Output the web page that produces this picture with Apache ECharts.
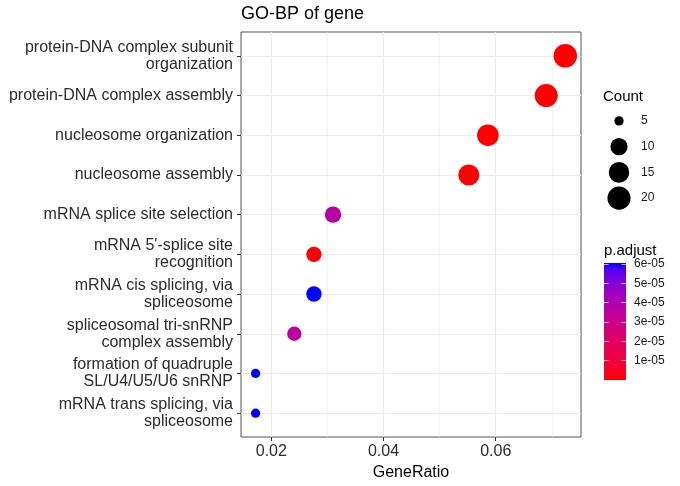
<!DOCTYPE html>
<html>
<head>
<meta charset="utf-8">
<script src="https://cdn.jsdelivr.net/npm/echarts@6/dist/echarts.min.js"></script>
<style>html,body{margin:0;padding:0;background:#fff;}#c{width:680px;height:486px;}</style>
</head>
<body>
<div id="c"></div>
<script>
const categories = [
  "protein-DNA complex subunit\norganization",
  "protein-DNA complex assembly",
  "nucleosome organization",
  "nucleosome assembly",
  "mRNA splice site selection",
  "mRNA 5'-splice site\nrecognition",
  "mRNA cis splicing, via\nspliceosome",
  "spliceosomal tri-snRNP\ncomplex assembly",
  "formation of quadruple\nSL/U4/U5/U6 snRNP",
  "mRNA trans splicing, via\nspliceosome"
];
const geneRatio = [0.0724, 0.0690, 0.0586, 0.0552, 0.0310, 0.0276, 0.0276, 0.0241, 0.0172, 0.0172];
const counts = [21, 20, 17, 16, 9, 8, 8, 7, 5, 5];
const pAdjust = [2e-10, 4e-10, 1.5e-9, 2.5e-9, 3.7e-05, 5e-7, 6.05e-05, 3.6e-05, 6.04e-05, 6.05e-05];

const xTicks = [0.02, 0.04, 0.06];
const xTickLabels = ["0.02", "0.04", "0.06"];
const xMinorTicks = [0.03, 0.05, 0.07];
const sizeBreaks = [5, 10, 15, 20];
const colorTicks = [1e-05, 2e-05, 3e-05, 4e-05, 5e-05, 6e-05];
const colorTickLabels = ["1e-05", "2e-05", "3e-05", "4e-05", "5e-05", "6e-05"];

const FONT = "'Liberation Sans', Arial, sans-serif";

// Lab-space gradient red -> blue (like ggplot scale_color_gradient)
function toLin(c){ c/=255; return c<=0.04045? c/12.92 : Math.pow((c+0.055)/1.055,2.4); }
function toSrgb(c){ c = c<=0.0031308? 12.92*c : 1.055*Math.pow(c,1/2.4)-0.055; return Math.max(0,Math.min(255,Math.round(c*255))); }
function rgb2lab(r,g,b){
  r=toLin(r); g=toLin(g); b=toLin(b);
  let X=(0.4124*r+0.3576*g+0.1805*b)/0.95047, Y=(0.2126*r+0.7152*g+0.0722*b), Z=(0.0193*r+0.1192*g+0.9505*b)/1.08883;
  const f=t=> t>0.008856? Math.cbrt(t) : 7.787*t+16/116;
  const fx=f(X), fy=f(Y), fz=f(Z);
  return [116*fy-16, 500*(fx-fy), 200*(fy-fz)];
}
function lab2rgb(L,a,b){
  const fy=(L+16)/116, fx=fy+a/500, fz=fy-b/200;
  const fi=t=> t*t*t>0.008856? t*t*t : (t-16/116)/7.787;
  const X=fi(fx)*0.95047, Y=fi(fy), Z=fi(fz)*1.08883;
  const r=3.2406*X-1.5372*Y-0.4986*Z, g=-0.9689*X+1.8758*Y+0.0415*Z, bb=0.0557*X-0.2040*Y+1.0570*Z;
  return 'rgb('+toSrgb(r)+','+toSrgb(g)+','+toSrgb(bb)+')';
}
const labLow = rgb2lab(255,0,0), labHigh = rgb2lab(0,0,255);
function gradColor(t){ return lab2rgb(labLow[0]+(labHigh[0]-labLow[0])*t, labLow[1]+(labHigh[1]-labLow[1])*t, labLow[2]+(labHigh[2]-labLow[2])*t); }
const stops = [];
for (let i=0;i<=20;i++) stops.push(gradColor(i/20));

const pMin = Math.min(...pAdjust), pMax = Math.max(...pAdjust);
const cMin = Math.min(...counts), cMax = Math.max(...counts);
function sizeFor(c){ return 9.3 + (23.5-9.3)*Math.sqrt(Math.max(0,(c-cMin))/(cMax-cMin)); }

const mainData = geneRatio.map((g,i)=>[g, i+1, counts[i], pAdjust[i]]);

const chart = echarts.init(document.getElementById('c'), null, {renderer:'canvas'});
chart.setOption({
  animation: false,
  backgroundColor: '#fff',
  textStyle: {fontFamily: FONT},
  title: [
    {text: 'GO-BP of gene', left: 241, top: 5, padding: 0, textStyle: {fontSize: 18, fontWeight: 'normal', color: '#000', fontFamily: FONT}},
    {text: 'Count', left: 603, top: 89, padding: 0, textStyle: {fontSize: 15, fontWeight: 'normal', color: '#000', fontFamily: FONT}},
    {text: 'p.adjust', left: 604, top: 243, padding: 0, textStyle: {fontSize: 15, fontWeight: 'normal', color: '#000', fontFamily: FONT}}
  ],
  grid: [
    {left: 241, top: 32, width: 340, height: 405, show: true, borderColor: '#555', borderWidth: 1, backgroundColor: 'transparent', containLabel: false},
    {left: 604, top: 263, width: 22, height: 117, containLabel: false},
    {left: 604, top: 108, width: 30, height: 103, containLabel: false}
  ],
  xAxis: [
    {gridIndex: 0, type: 'value', min: 0.0146, max: 0.0752,
     name: 'GeneRatio', nameLocation: 'middle', nameGap: 24,
     nameTextStyle: {fontSize: 16, color: '#000', fontFamily: FONT},
     axisLine: {show: false}, splitLine: {show: false},
     axisTick: {show: true, length: 4, customValues: xTicks, lineStyle: {color: '#333'}},
     axisLabel: {customValues: xTicks, margin: 7, fontSize: 16, color: '#2b2b2b', fontFamily: FONT,
       formatter: v => { const k = xTicks.findIndex(t => Math.abs(t-v) < 1e-9); return k>=0 ? xTickLabels[k] : ''; }}
    },
    {gridIndex: 1, type: 'category', data: ['p'], show: false},
    {gridIndex: 2, type: 'value', min: 0, max: 1, show: false}
  ],
  yAxis: [
    {gridIndex: 0, type: 'value', min: 0.4, max: 10.6, inverse: true,
     axisLine: {show: false}, splitLine: {show: false},
     axisTick: {show: true, length: 4, customValues: categories.map((c,i)=>i+1), lineStyle: {color: '#333'}},
     axisLabel: {customValues: categories.map((c,i)=>i+1), margin: 8, fontSize: 16, lineHeight: 17, color: '#2b2b2b', fontFamily: FONT, align: 'right',
       formatter: v => categories[Math.round(v)-1] || ''}
    },
    {gridIndex: 1, type: 'value', min: pMin, max: pMax, position: 'left', z: 10,
     axisLine: {show: false}, splitLine: {show: false}, axisLabel: {show: false},
     axisTick: {show: true, inside: true, length: 4.5, customValues: colorTicks, lineStyle: {color: 'rgba(255,255,255,0.75)', width: 1}}
    },
    {gridIndex: 1, type: 'value', min: pMin, max: pMax, position: 'right', z: 10,
     axisLine: {show: false}, splitLine: {show: false},
     axisTick: {show: true, inside: true, length: 4.5, customValues: colorTicks, lineStyle: {color: 'rgba(255,255,255,0.75)', width: 1}},
     axisLabel: {customValues: colorTicks, margin: 8, fontSize: 12, color: '#1a1a1a', fontFamily: FONT,
       formatter: v => { const k = colorTicks.findIndex(t => Math.abs(t-v) < 1e-12); return k>=0 ? colorTickLabels[k] : ''; }}
    },
    {gridIndex: 2, type: 'category', data: sizeBreaks.map(String), inverse: true, position: 'right',
     axisLine: {show: false}, axisTick: {show: false}, splitLine: {show: false},
     axisLabel: {margin: 7, fontSize: 12, color: '#1a1a1a', fontFamily: FONT}
    }
  ],
  visualMap: [{
    show: false, type: 'continuous', seriesIndex: 1, dimension: 3,
    min: pMin, max: pMax, inRange: {color: stops}
  }],
  series: [
    {type: 'scatter', xAxisIndex: 0, yAxisIndex: 0, data: [], z: 1, silent: true,
     markLine: {silent: true, symbol: ['none','none'], label: {show: false}, animation: false,
       data: [
         ...xMinorTicks.map(v => ({xAxis: v, lineStyle: {color: '#EBEBEB', width: 0.6, type: 'solid'}})),
         ...xTicks.map(v => ({xAxis: v, lineStyle: {color: '#EBEBEB', width: 1.1, type: 'solid'}})),
         ...categories.map((c,i) => ({yAxis: i+1, lineStyle: {color: '#EBEBEB', width: 1.1, type: 'solid'}}))
       ]}
    },
    {type: 'scatter', xAxisIndex: 0, yAxisIndex: 0, z: 5, data: mainData,
     symbol: 'circle', symbolSize: d => sizeFor(d[2]), itemStyle: {opacity: 1}},
    {type: 'bar', xAxisIndex: 1, yAxisIndex: 2, data: [pMax], barWidth: '100%', z: 2, silent: true,
     itemStyle: {color: new echarts.graphic.LinearGradient(0, 0, 0, 1,
        stops.slice().reverse().map((c,i,arr)=>({offset: i/(arr.length-1), color: c})))}
    },
    {type: 'scatter', xAxisIndex: 2, yAxisIndex: 3, data: sizeBreaks.map(s => [0.5, String(s), s]),
     symbol: 'circle', symbolSize: d => sizeFor(d[2]), itemStyle: {color: '#000', opacity: 1}, silent: true}
  ]
});
</script>
</body>
</html>
